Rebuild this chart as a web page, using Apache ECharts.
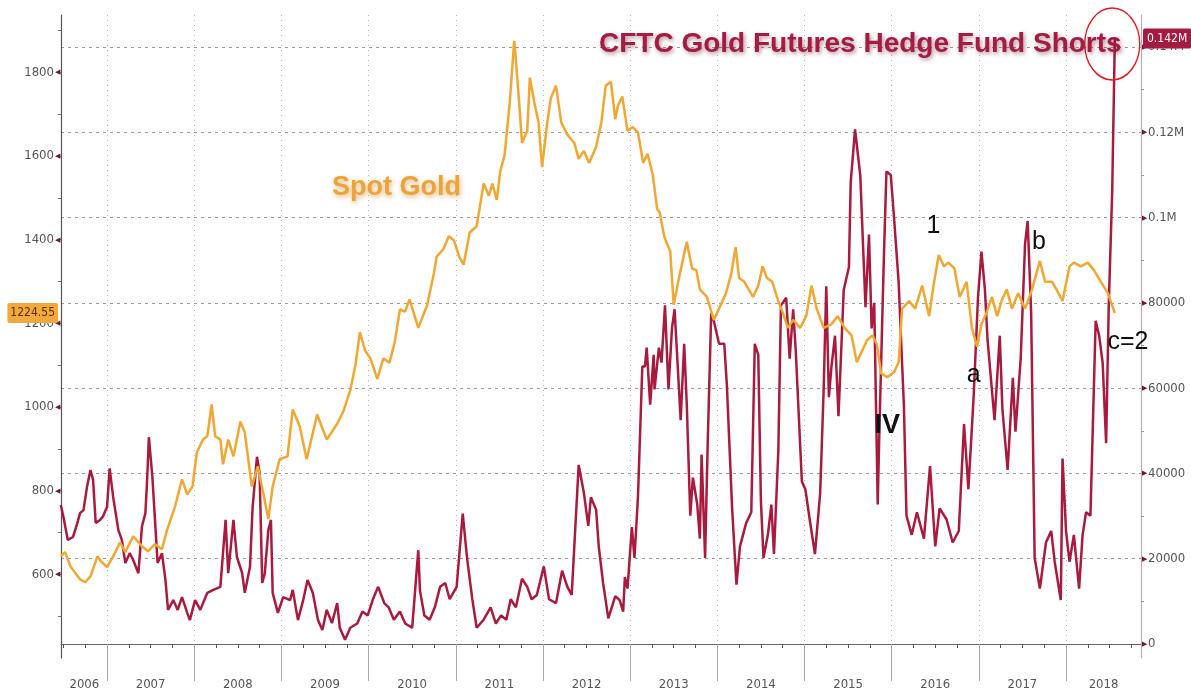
<!DOCTYPE html>
<html>
<head>
<meta charset="utf-8">
<script src="https://cdn.jsdelivr.net/npm/echarts@6/dist/echarts.min.js"></script>
<style>
html,body{margin:0;padding:0;background:#fff;}
#chart{width:1191px;height:695px;}
</style>
</head>
<body>
<div id="chart"></div>
<script>
// ---------- DATA ----------
const goldYears = [
  2006.47,2006.52,2006.58,2006.69,2006.75,2006.81,2006.89,2006.94,
  2007.00,2007.07,2007.15,2007.21,2007.30,2007.40,2007.47,2007.55,2007.63,2007.69,2007.78,2007.86,2007.92,2007.98,
  2008.03,2008.10,2008.15,2008.20,2008.24,2008.30,2008.33,2008.39,2008.45,2008.53,2008.58,2008.66,2008.73,2008.79,2008.85,2008.90,2008.98,
  2009.07,2009.13,2009.21,2009.29,2009.41,2009.52,2009.64,2009.71,2009.79,2009.85,2009.90,2009.96,
  2010.02,2010.10,2010.17,2010.24,2010.30,2010.36,2010.42,2010.47,2010.57,2010.67,2010.75,2010.78,2010.86,2010.92,2010.98,
  2011.04,2011.09,2011.16,2011.24,2011.32,2011.38,2011.42,2011.47,2011.51,2011.56,2011.62,2011.67,2011.68,2011.72,2011.76,2011.82,2011.85,2011.90,2011.95,2011.99,
  2012.05,2012.09,2012.15,2012.21,2012.28,2012.36,2012.41,2012.47,2012.53,2012.61,2012.67,2012.72,2012.78,2012.83,2012.86,2012.91,2012.94,2012.97,
  2013.03,2013.09,2013.15,2013.20,2013.26,2013.31,2013.34,2013.39,2013.42,2013.46,2013.50,2013.56,2013.65,2013.71,2013.76,2013.80,2013.88,2013.96,
  2014.02,2014.10,2014.16,2014.21,2014.25,2014.31,2014.41,2014.47,2014.52,2014.57,2014.63,2014.70,2014.75,2014.81,2014.87,2014.95,
  2015.02,2015.08,2015.14,2015.22,2015.31,2015.38,2015.46,2015.54,2015.60,2015.66,2015.72,2015.78,2015.83,2015.88,2015.95,
  2016.03,2016.08,2016.12,2016.20,2016.27,2016.35,2016.43,2016.48,2016.54,2016.60,2016.65,2016.72,2016.78,2016.86,2016.92,2016.98,
  2017.03,2017.09,2017.15,2017.21,2017.26,2017.32,2017.38,2017.45,2017.53,2017.61,2017.70,2017.76,2017.84,2017.89,2017.96,
  2018.04,2018.09,2018.17,2018.25,2018.32,2018.40,2018.48,2018.56
];
const goldValues = [
  644,653,619,588,581,595,643,629,
  617,643,676,653,691,667,655,672,660,707,762,827,791,810,
  891,922,930,1006,930,922,863,922,882,965,939,810,858,796,732,810,875,
  882,994,954,875,982,922,960,989,1040,1100,1179,1135,
  1116,1067,1116,1106,1155,1233,1228,1257,1189,1242,1320,1359,1378,1408,1398,
  1359,1340,1417,1432,1534,1505,1534,1495,1563,1602,1729,1875,1855,1748,1631,1660,1787,1729,1680,1573,
  1680,1738,1768,1680,1651,1631,1593,1612,1583,1622,1680,1768,1777,1688,1720,1742,1701,1660,
  1669,1656,1583,1605,1555,1473,1464,1409,1391,1372,1244,1308,1395,1331,1327,1281,1263,1208,
  1235,1272,1318,1382,1308,1299,1263,1290,1336,1308,1299,1253,1226,1189,1208,1189,
  1217,1290,1235,1189,1198,1217,1189,1171,1107,1134,1160,1171,1150,1080,1071,
  1084,1107,1235,1253,1235,1290,1217,1290,1363,1336,1345,1331,1263,1299,1189,1144,
  1198,1226,1263,1217,1253,1281,1235,1272,1235,1281,1349,1299,1299,1281,1253,
  1336,1345,1336,1345,1327,1299,1272,1224.55
];

const shortYears = [
  2006.47,2006.50,2006.55,2006.61,2006.66,2006.69,2006.73,2006.77,2006.81,2006.84,2006.87,2006.92,2006.95,
  2007.00,2007.03,2007.07,2007.13,2007.17,2007.21,2007.26,2007.30,2007.36,2007.40,2007.44,2007.46,2007.48,2007.52,2007.55,2007.58,2007.63,2007.67,2007.70,2007.76,2007.81,2007.86,2007.92,2007.95,
  2008.01,2008.07,2008.15,2008.22,2008.30,2008.36,2008.39,2008.45,2008.49,2008.55,2008.58,2008.64,2008.67,2008.72,2008.75,2008.78,2008.81,2008.85,2008.88,2008.90,2008.96,
  2009.02,2009.10,2009.13,2009.19,2009.25,2009.30,2009.36,2009.42,2009.47,2009.52,2009.58,2009.64,2009.67,2009.73,2009.79,2009.87,2009.93,2009.99,
  2010.05,2010.11,2010.18,2010.23,2010.29,2010.36,2010.42,2010.50,2010.53,2010.57,2010.59,2010.64,2010.70,2010.76,2010.82,2010.88,2010.93,
  2011.01,2011.08,2011.13,2011.19,2011.24,2011.32,2011.40,2011.46,2011.52,2011.58,2011.63,2011.69,2011.76,2011.82,2011.87,2011.93,
  2012.01,2012.07,2012.15,2012.22,2012.28,2012.33,2012.41,2012.47,2012.52,2012.55,2012.61,2012.64,2012.69,2012.75,2012.83,2012.88,2012.92,2012.94,2012.97,
  2013.02,2013.05,2013.09,2013.14,2013.17,2013.19,2013.23,2013.27,2013.28,2013.33,2013.36,2013.40,2013.44,2013.48,2013.51,2013.58,2013.62,2013.65,2013.69,2013.72,2013.77,2013.80,2013.82,2013.86,2013.89,2013.93,2013.96,
  2014.02,2014.08,2014.11,2014.17,2014.22,2014.26,2014.33,2014.39,2014.43,2014.47,2014.50,2014.53,2014.58,2014.62,2014.65,2014.70,2014.73,2014.79,2014.83,2014.87,2014.90,2014.97,
  2015.01,2015.06,2015.12,2015.18,2015.22,2015.25,2015.28,2015.31,2015.35,2015.39,2015.45,2015.51,2015.53,2015.58,2015.64,2015.70,2015.74,2015.77,2015.80,2015.84,2015.86,2015.91,2015.94,2015.99,
  2016.03,2016.08,2016.14,2016.17,2016.23,2016.29,2016.37,2016.44,2016.50,2016.55,2016.63,2016.70,2016.77,2016.83,2016.88,2016.94,2016.99,
  2017.03,2017.07,2017.10,2017.18,2017.24,2017.27,2017.33,2017.39,2017.42,2017.48,2017.53,2017.56,2017.60,2017.64,2017.70,2017.77,2017.83,2017.87,2017.94,2017.96,
  2018.00,2018.04,2018.09,2018.15,2018.19,2018.23,2018.28,2018.34,2018.38,2018.42,2018.46,2018.49,2018.53,2018.56
];
const shortValues = [
  32600,29800,24400,25100,28400,30700,31400,36800,40800,38500,28400,29100,29800,
  32100,41200,34500,26700,24400,19000,21300,19700,16600,27500,30700,38500,48500,39200,29100,19000,21300,15000,8000,10300,8000,11000,7300,5600,
  10300,8000,12000,12700,13400,29100,16600,29100,20400,16600,12000,18100,32100,43900,40100,14300,16600,26700,29100,12000,7300,
  11000,10300,12700,5600,10300,15000,12000,5600,3300,8000,4900,9600,3800,1000,3800,4800,7600,6700,
  10500,13400,9600,8600,5700,7600,4800,3800,11500,22000,12400,6700,5700,8600,13400,14300,10500,
  13400,30600,20100,10500,3800,5700,8600,4800,6700,5700,10500,8600,15300,13400,10500,11500,
  18200,10500,9600,17200,13400,11500,42000,35400,27700,34400,31500,22900,14300,6000,11200,10300,7600,15700,13000,
  27400,20200,34500,65100,65100,69500,56100,67800,59700,69500,66000,79400,59700,74000,78500,52500,70400,56100,30100,39000,32700,24700,44400,20200,47100,77600,75800,
  70400,70400,60600,31800,13900,22900,28300,30900,70400,67800,33600,20200,25600,32700,21100,45300,79400,81200,66900,78500,68700,38100,
  36300,29200,21100,35400,59700,83900,57900,65100,72300,53400,83000,88400,108200,120700,109900,79000,96000,74000,80000,32700,50700,90200,110800,110000,
  99200,84800,56100,30100,25600,30900,24700,41700,22900,31800,29200,23800,26500,51600,36300,57900,81200,
  92000,83000,71300,52500,72300,55200,40800,62400,49800,66900,93800,99200,77600,20200,13000,23800,26500,19300,10300,43500,
  26500,19300,25600,13000,25600,30900,30100,75800,72300,66000,47100,79400,106500,142000
];

// tick labels
const yearTicks = [2007,2008,2009,2010,2011,2012,2013,2014,2015,2016,2017,2018];
const yearLabelPos = [2006.74,2007.5,2008.5,2009.5,2010.5,2011.5,2012.5,2013.5,2014.5,2015.5,2016.5,2017.5,2018.43];
const goldTickLabels = [600,800,1000,1200,1400,1600,1800];
const shortTickLabels = [0,20000,40000,60000,80000,100000,120000,140000];

// annotations
const annoTexts = ['1','b','a','c=2','IV'];
const annoYears = [2016.48,2017.69,2016.94,2018.71,2015.95];
const annoGold  = [1432,1393,1075,1156,955];

const lastGold = 1224.55;
const lastShort = 142000;

// ---------- BUILD ----------
const X_MIN = 2006.472, X_MAX = 2018.86;
const NARROW = "'Liberation Sans Narrow','DejaVu Sans Condensed','Liberation Sans',sans-serif";
const goldData = goldYears.map((x,i)=>[x, goldValues[i]]);
const shortData = shortYears.map((x,i)=>[x, shortValues[i]]);
const quarterTicks = [];
for (let y = 2006; y <= 2018; y++) {
  [0.25,0.5,0.75].forEach(q => { const v = y + q; if (v > X_MIN && v < X_MAX) quarterTicks.push(v); });
}
const goldMinor = [];
for (let v = 500; v <= 1900; v += 100) goldMinor.push(v);
const shortMinor = [];
for (let v = 10000; v <= 140000; v += 20000) shortMinor.push(v);

const fmtShort = v => v >= 100000 ? (v/1e6).toString() + 'M' : String(v);

const chart = echarts.init(document.getElementById('chart'));
chart.setOption({
  backgroundColor: '#ffffff',
  animation: false,
  title: [
    {
      text: 'CFTC Gold Futures Hedge Fund Shorts',
      left: 599, top: 30, padding: 0,
      textStyle: {
        fontFamily: "'Liberation Sans',Arial,sans-serif", fontSize: 28, fontWeight: 'bold',
        color: '#a31c41', textShadowColor: 'rgba(90,0,25,0.45)', textShadowBlur: 4,
        textShadowOffsetX: 1.5, textShadowOffsetY: 2
      }
    },
    {
      text: 'Spot Gold',
      left: 332, top: 174, padding: 0,
      textStyle: {
        fontFamily: "'Liberation Sans',Arial,sans-serif", fontSize: 27, fontWeight: 'bold',
        color: '#eba43c', textShadowColor: 'rgba(200,120,20,0.55)', textShadowBlur: 5,
        textShadowOffsetX: 1, textShadowOffsetY: 2
      }
    }
  ],
  grid: { left: 61, right: 50, top: 15, bottom: 37, containLabel: false },
  xAxis: [
    {
      type: 'value', min: X_MIN, max: X_MAX, position: 'bottom',
      axisLine: { show: true, lineStyle: { color: '#666', width: 1 } },
      axisTick: { show: true, customValues: yearTicks, length: 37, lineStyle: { color: '#aaa', width: 1 } },
      axisLabel: {
        customValues: yearLabelPos, formatter: v => String(Math.floor(v)),
        margin: 20, color: '#555', fontSize: 13, fontFamily: NARROW
      },
      splitLine: { show: true, lineStyle: { color: '#b5b5b5', type: [1,4], width: 1 } }
    },
    {
      type: 'value', min: X_MIN, max: X_MAX, position: 'bottom', offset: 0,
      axisLine: { show: true, lineStyle: { color: 'rgba(0,0,0,0)' } },
      axisTick: { show: true, customValues: quarterTicks, length: 4, lineStyle: { color: '#555', width: 1 } },
      axisLabel: { show: true, customValues: quarterTicks, formatter: () => '', color: 'rgba(0,0,0,0)' },
      splitLine: { show: false }
    }
  ],
  yAxis: [
    {
      type: 'value', min: 400, max: 1936.8, position: 'left',
      axisLine: { show: true, lineStyle: { color: '#555', width: 1.2 } },
      axisTick: { show: true, customValues: goldMinor, length: 3, lineStyle: { color: '#777' } },
      axisLabel: {
        customValues: goldTickLabels, margin: 1,
        formatter: v => '{n|' + v + '}{a|◀}',
        rich: {
          n: { fontSize: 13, color: '#555', fontFamily: NARROW },
          a: { fontSize: 7, color: '#6a1b2c', padding: [0,0,0,1] }
        }
      },
      splitLine: { show: false }
    },
    {
      type: 'value', min: -3283, max: 147504, position: 'right',
      axisLine: { show: true, lineStyle: { color: '#c2aab5', width: 1.2 } },
      axisTick: { show: false, customValues: shortTickLabels },
      axisLabel: {
        customValues: shortTickLabels, margin: 1,
        formatter: v => '{a|▶}{n|' + fmtShort(v) + '}',
        rich: {
          n: { fontSize: 13, color: '#555', fontFamily: NARROW },
          a: { fontSize: 7, color: '#6a1b2c', padding: [0,1,0,0] }
        }
      },
      splitLine: { show: true, lineStyle: { color: '#9a9a9a', type: [3,4], width: 1 } }
    },
    {
      type: 'value', min: -3283, max: 147504, position: 'right',
      axisLine: { show: false },
      axisTick: { show: true, customValues: shortMinor, length: 3, lineStyle: { color: '#999' } },
      axisLabel: { show: false },
      splitLine: { show: false }
    }
  ],
  series: [
    {
      name: 'CFTC Gold Futures Hedge Fund Shorts',
      type: 'line', xAxisIndex: 0, yAxisIndex: 1,
      data: shortData, symbol: 'none', z: 2,
      lineStyle: { color: '#a81b3e', width: 2.5 },
      itemStyle: { color: '#a81b3e' },
      markPoint: {
        silent: true,
        data: [{ coord: [2018.53, 140700] }],
        symbol: 'circle', symbolSize: [55, 72],
        itemStyle: { color: 'rgba(0,0,0,0)', borderColor: '#e3191e', borderWidth: 1.5 },
        label: { show: false }
      },
      markLine: {
        silent: true, symbol: 'none', z: 10,
        lineStyle: { color: 'rgba(0,0,0,0)', width: 0 },
        data: [{ yAxis: lastShort }],
        label: {
          show: true, position: 'end', distance: 2,
          formatter: () => fmtShort(lastShort),
          backgroundColor: '#a51b3f', color: '#ffffff', fontSize: 12,
          fontFamily: NARROW, padding: [4,4,4,4], borderRadius: 2
        }
      }
    },
    {
      name: 'Spot Gold',
      type: 'line', xAxisIndex: 0, yAxisIndex: 0,
      data: goldData, symbol: 'none', z: 3,
      lineStyle: { color: '#f0a733', width: 2.5 },
      itemStyle: { color: '#f0a733' },
      markPoint: {
        silent: true,
        symbol: 'circle', symbolSize: 1,
        itemStyle: { color: 'rgba(0,0,0,0)' },
        label: {
          show: true, position: 'inside', color: '#111', fontSize: 25,
          fontFamily: "'Liberation Sans',Arial,sans-serif",
          formatter: p => p.name
        },
        data: annoTexts.map((t, i) => {
          const d = { name: t, coord: [annoYears[i], annoGold[i]] };
          if (t === 'IV') d.label = { fontWeight: 'bold', fontSize: 27 };
          return d;
        })
      },
      markLine: {
        silent: true, symbol: 'none', z: 10,
        lineStyle: { color: 'rgba(0,0,0,0)', width: 0 },
        data: [{ yAxis: lastGold }],
        label: {
          show: true, position: 'start', distance: 3,
          formatter: () => String(lastGold),
          backgroundColor: '#f2a93b', color: '#5a2f00', fontSize: 12,
          fontFamily: NARROW, padding: [4,3,4,3], borderRadius: 2
        }
      }
    }
  ]
});
</script>
</body>
</html>
